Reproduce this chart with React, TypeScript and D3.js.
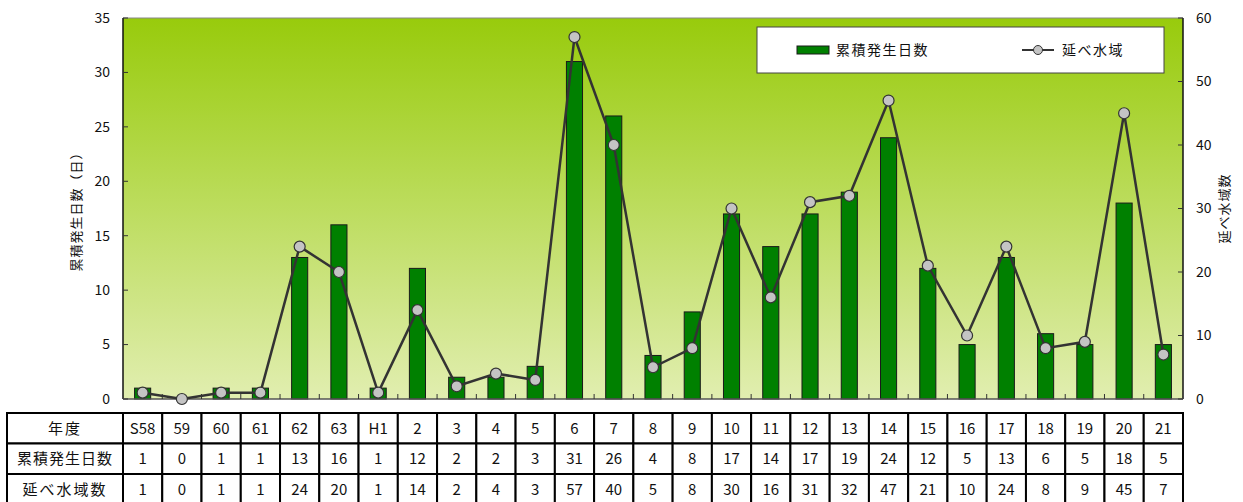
import React from "react";
import * as d3 from "d3";

const years = ["S58","59","60","61","62","63","H1","2","3","4","5","6","7","8","9","10","11","12","13","14","15","16","17","18","19","20","21"];
const days = [1,0,1,1,13,16,1,12,2,2,3,31,26,4,8,17,14,17,19,24,12,5,13,6,5,18,5];
const areas = [1,0,1,1,24,20,1,14,2,4,3,57,40,5,8,30,16,31,32,47,21,10,24,8,9,45,7];
const leftTicks = [0,5,10,15,20,25,30,35];
const rightTicks = [0,10,20,30,40,50,60];
const seriesNames = ["累積発生日数", "延べ水域"];
const rowHeaders = ["年度", "累積発生日数", "延べ水域数"];
const leftTitle = "累積発生日数（日）";
const rightTitle = "延べ水域数";

const W = 1243, H = 502;
const L = 123, R = 1183, T = 18, B = 399;
const FONT = "'Noto Sans CJK JP', 'Noto Sans', sans-serif";

export default function App() {
  const x = d3.scaleBand<string>().domain(years).range([L, R]).paddingInner(0.59).paddingOuter(0.295);
  const xc = d3.scaleBand<string>().domain(years).range([L, R]);
  const yL = d3.scaleLinear().domain([0, 35]).range([B, T]);
  const yR = d3.scaleLinear().domain([0, 60]).range([B, T]);
  const line = d3.line<number>().x((_, i) => xc(years[i])! + xc.bandwidth() / 2).y(d => yR(d));

  const tableTop = 413, rowH = 30.5, tableLeft = 7;
  const rows = [years, days.map(String), areas.map(String)];

  return (
    <svg width={W} height={H} style={{ position: "absolute", left: 0, top: 0, fontFamily: FONT }}>
      <defs>
        <linearGradient id="bg" x1="0" y1="0" x2="0" y2="1">
          <stop offset="0" stopColor="#98cb0c" />
          <stop offset="1" stopColor="#e1eeb0" />
        </linearGradient>
      </defs>
      <rect x={0} y={0} width={W} height={H} fill="#fff" />
      <rect x={L} y={T} width={R - L} height={B - T} fill="url(#bg)" />
      <line x1={L} x2={R} y1={T} y2={T} stroke="#888" strokeWidth={1} />
      {/* bars */}
      {days.map((d, i) => (
        <rect key={i} x={x(years[i])} y={yL(d)} width={x.bandwidth()} height={B - yL(d)}
          fill="#008000" stroke="#1a1a1a" strokeWidth={1} />
      ))}
      {/* axes */}
      <line x1={L} x2={L} y1={T} y2={B} stroke="#111" strokeWidth={1.5} />
      <line x1={R} x2={R} y1={T} y2={B} stroke="#111" strokeWidth={1.5} />
      <line x1={L} x2={R} y1={B} y2={B} stroke="#555" strokeWidth={1.5} />
      {leftTicks.map(t => (
        <g key={"l" + t}>
          <line x1={L} x2={L + 5} y1={yL(t)} y2={yL(t)} stroke="#333" strokeWidth={1} />
          <text x={110} y={yL(t)} dy="0.35em" textAnchor="end" fontSize={14} fill="#111">{t}</text>
        </g>
      ))}
      {rightTicks.map(t => (
        <g key={"r" + t}>
          <line x1={R - 5} x2={R} y1={yR(t)} y2={yR(t)} stroke="#333" strokeWidth={1} />
          <text x={1196} y={yR(t)} dy="0.35em" textAnchor="start" fontSize={14} fill="#111">{t}</text>
        </g>
      ))}
      {years.slice(1).map(c => (
        <line key={"c" + c} x1={xc(c)} x2={xc(c)} y1={B} y2={B - 5} stroke="#333" strokeWidth={1} />
      ))}
      {/* line series */}
      <path d={line(areas) || ""} fill="none" stroke="#333" strokeWidth={2.5} />
      {areas.map((v, i) => (
        <circle key={i} cx={xc(years[i])! + xc.bandwidth() / 2} cy={yR(v)} r={5.5} fill="#c4c4c4" stroke="#333" strokeWidth={1.2} />
      ))}
      {/* axis titles */}
      <text transform={`translate(76,${(T + B) / 2}) rotate(-90)`} textAnchor="middle" dy="0.35em" fontSize={13} fill="#111" letterSpacing={1}>{leftTitle}</text>
      <text transform={`translate(1224,${(T + B) / 2}) rotate(-90)`} textAnchor="middle" dy="0.35em" fontSize={13} fill="#111" letterSpacing={1}>{rightTitle}</text>
      {/* legend */}
      <rect x={757} y={27} width={407} height={46} fill="#fff" stroke="#444" strokeWidth={1} />
      <rect x={797} y={46} width={32} height={8} fill="#008000" stroke="#1a1a1a" strokeWidth={1} />
      <text x={836} y={50} dy="0.35em" fontSize={14} fill="#111" letterSpacing={1.5}>{seriesNames[0]}</text>
      <line x1={1022} x2={1054} y1={50} y2={50} stroke="#333" strokeWidth={2} />
      <circle cx={1038} cy={50} r={4.5} fill="#c4c4c4" stroke="#333" strokeWidth={1} />
      <text x={1062} y={50} dy="0.35em" fontSize={14} fill="#111" letterSpacing={1.5}>{seriesNames[1]}</text>
      {/* table */}
      {rows.map((row, r) => (
        <g key={"row" + r}>
          <rect x={tableLeft} y={tableTop + r * rowH} width={L - tableLeft} height={rowH} fill="#fff" stroke="#000" strokeWidth={2} />
          <text x={(tableLeft + L) / 2} y={tableTop + r * rowH + rowH / 2} dy="0.35em" textAnchor="middle" fontSize={15} fill="#111" letterSpacing={r === 1 ? 1 : 2}>{rowHeaders[r]}</text>
          {row.map((v, i) => (
            <g key={i}>
              <rect x={xc(years[i])} y={tableTop + r * rowH} width={xc.bandwidth()} height={rowH} fill="#fff" stroke="#000" strokeWidth={2} />
              <text x={xc(years[i])! + xc.bandwidth() / 2} y={tableTop + r * rowH + rowH / 2} dy="0.35em" textAnchor="middle" fontSize={15} fill="#111">{v}</text>
            </g>
          ))}
        </g>
      ))}
    </svg>
  );
}
